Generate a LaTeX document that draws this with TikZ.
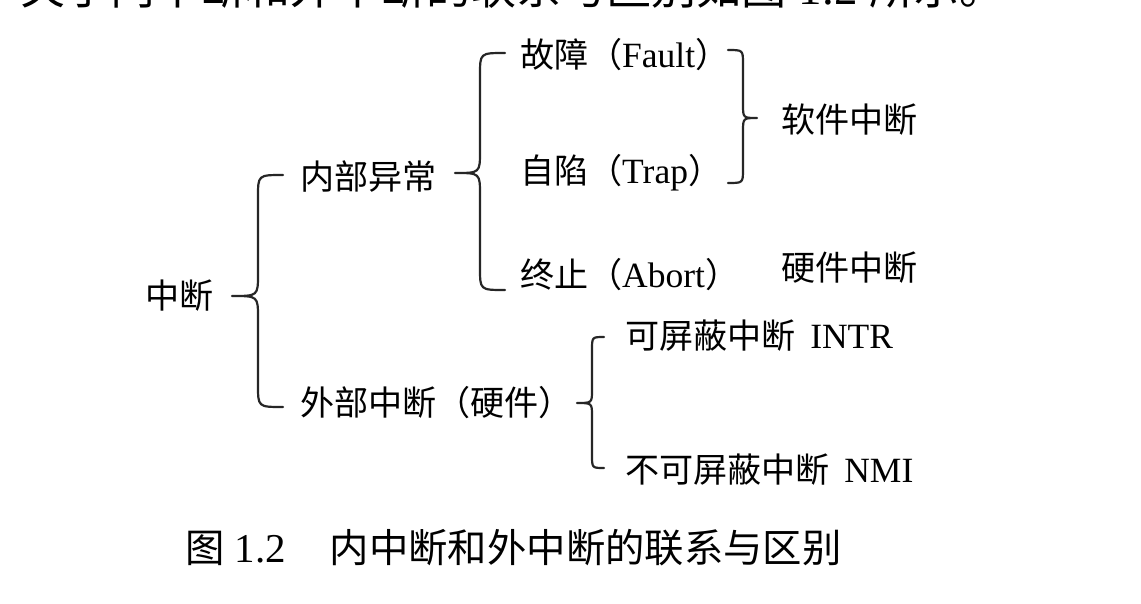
\documentclass[tikz,border=0pt]{standalone}
\usepackage{fontspec}
\setmainfont{Liberation Serif}
\newfontfamily\cjk[Scale=0.96]{Noto Sans CJK SC}
\newcommand\zh[1]{{\cjk #1}}
% hook x, vertical x, tip x, top y, mid y, bottom y, radius
\newcommand\bracelt[7]{%
  \draw[bracestyle] (#1,#4) .. controls (#2,#4) .. (#2,{#4+#7})
    -- (#2,{#5-#7}) .. controls (#2,#5) .. (#3,#5)
    .. controls (#2,#5) .. (#2,{#5+#7})
    -- (#2,{#6-#7}) .. controls (#2,#6) .. (#1,#6);}
\begin{document}
\begin{tikzpicture}[x=1pt,y=-1pt,
  every node/.style={inner sep=0pt, outer sep=0pt, anchor=west, text=black},
  lbl/.style={font=\fontsize{35.5}{38}\selectfont},
  bracestyle/.style={line width=2.2pt, line cap=round, line join=round, draw=black!85}]
\useasboundingbox (0,0) rectangle (1141,603);
\fill[white] (0,0) rectangle (1141,603);
\begin{scope}
\clip (0,0) rectangle (1141,603);
\node[font=\fontsize{47}{50}\selectfont, anchor=base west] (top) at (20,4) {\zh{关于内中断和外中断的联系与区别如图} 1.2 \zh{所示。}};
\end{scope}
% labels
\node[lbl] (zd) at (145,296) {\zh{中断}};
\node[lbl] (nbyc) at (300,177) {\zh{内部异常}};
\node[lbl] (wbzd) at (300,403) {\zh{外部中断（硬件）}};
\node[lbl] (gz) at (520,55) {\zh{故障（}Fault\zh{）}};
\node[lbl] (zx) at (520,173) {\zh{自陷（}Trap\zh{）}};
\node[lbl] (zz) at (520,275) {\zh{终止（}Abort\zh{）}};
\node[lbl] (rjzd) at (781,120) {\zh{软件中断}};
\node[lbl] (yjzd) at (781,268) {\zh{硬件中断}};
\node[lbl] (kpb) at (625,336) {\zh{可屏蔽中断}\hspace{6pt} INTR};
\node[lbl] (bkpb) at (625,470) {\zh{不可屏蔽中断}\hspace{6pt} NMI};
% braces
\bracelt{283}{258}{232}{175}{296}{407}{22}
\bracelt{505}{480}{455}{53}{173}{290}{22}
\bracelt{728}{743}{757}{50}{118}{183}{14}
\bracelt{604}{592}{577}{337}{403}{468}{13}
% caption
\node[font=\fontsize{41}{44}\selectfont] (cap) at (185,548) {\zh{图} 1.2\hspace{44pt}\zh{内中断和外中断的联系与区别}};
\end{tikzpicture}
\end{document}
